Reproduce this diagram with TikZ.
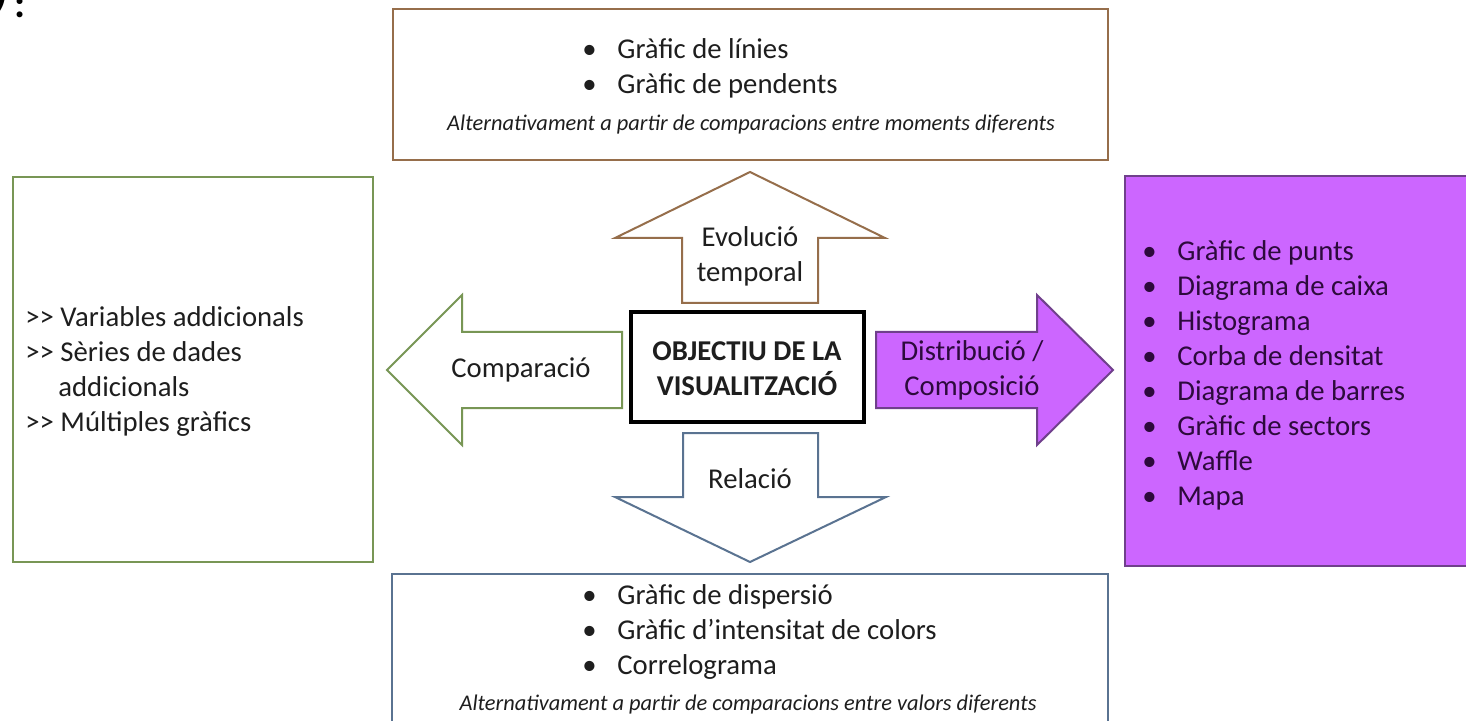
\documentclass[tikz,border=0pt]{standalone}
\usepackage{fontspec}
\setmainfont{Carlito}
\usetikzlibrary{fit}
\definecolor{brownc}{RGB}{150,110,75}
\definecolor{greenc}{RGB}{120,150,85}
\definecolor{bluec}{RGB}{90,115,145}
\definecolor{purfill}{RGB}{204,102,255}
\definecolor{purline}{RGB}{112,64,140}
\definecolor{txt}{RGB}{30,30,30}
\definecolor{purtxt}{RGB}{45,10,60}
\newcommand\itm[1]{\makebox[17.5pt][l]{•}#1\strut}
\tikzset{
  body/.style={font=\fontsize{14.35}{17.5}\selectfont, text=txt, inner sep=0pt},
  note/.style={font=\fontsize{11.2}{13.5}\selectfont\itshape, text=txt, inner sep=0pt},
  frame/.style={draw=#1, line width=1pt, inner sep=0pt},
  blockarrow/.style={draw=#1, line width=1pt, line join=miter},
}
\begin{document}
\begin{tikzpicture}[x=0.5pt,y=-0.5pt]
\useasboundingbox (0,0) rectangle (1466,721);
\clip (0,0) rectangle (1466,721);
\fill[white] (0,0) rectangle (1466,721);

% cut-off label at top left
\node[font=\fontsize{20}{24}\selectfont\bfseries, anchor=base west, inner sep=0pt] (frag) at (-5,18) {\raisebox{6pt}{)}\kern3.5pt:};

% boxes
\node[frame=brownc, fit={(393,9) (1108,160)}] (topbox) {};
\node[frame=greenc, fit={(13,177) (373,562)}] (leftbox) {};
\node[frame=purline, fill=purfill, fit={(1125,176) (1480,566)}] (rightbox) {};
\node[frame=bluec, fit={(392,574) (1108,740)}] (bottombox) {};
\node[draw=black, line width=1.75pt, inner sep=0pt, fit={(631,312) (864,422)}] (goal) {};

% block arrows
\draw[blockarrow=brownc] (682,303) -- (682,238) -- (615,238) -- (750,172) -- (885,238) -- (818,238) -- (818,303) -- cycle;
\draw[blockarrow=bluec] (683,433) -- (683,497) -- (615,497) -- (750,562) -- (886,497) -- (818,497) -- (818,433) -- cycle;
\draw[blockarrow=greenc] (622,332) -- (462,332) -- (462,295) -- (387,370) -- (462,445) -- (462,408) -- (622,408) -- cycle;
\draw[blockarrow=purline, fill=purfill] (876,332) -- (1037,332) -- (1037,295) -- (1113,370) -- (1037,445) -- (1037,408) -- (876,408) -- cycle;

% labels
\node[body, align=center, font=\fontsize{14.35}{17.5}\selectfont\bfseries] (goaltext) at (747,369) {OBJECTIU DE LA\\VISUALITZACIÓ};
\node[body, align=center] (evol) at (750,257) {Evolució\strut\\temporal\strut};
\node[body] (rel) at (750,481) {Relació\strut};
\node[body] (comp) at (521,371) {Comparació\strut};
\node[body, align=center, text=purtxt] (dist) at (972,371) {Distribució /\strut\\Composició\strut};

% lists
\node[body, anchor=west, align=left] (toplist) at (582,69) {\itm{Gràfic de línies}\\\itm{Gràfic de pendents}};
\node[note] (topnote) at (751,125) {Alternativament a partir de comparacions entre moments diferents};

\node[body, anchor=west, align=left] (bottomlist) at (582,632) {\itm{Gràfic de dispersió}\\\itm{Gràfic d’intensitat de colors}\\\itm{Correlograma}};
\node[note] (bottomnote) at (748,705) {Alternativament a partir de comparacions entre valors diferents};

\node[body, anchor=west, align=left] (leftlist) at (25,372) {{>}{>} Variables addicionals\strut\\{>}{>} Sèries de dades\strut\\\hspace*{16.5pt}addicionals\strut\\{>}{>} Múltiples gràfics\strut};

\node[body, anchor=west, align=left, text=purtxt] (rightlist) at (1142,376) {\itm{Gràfic de punts}\\\itm{Diagrama de caixa}\\\itm{Histograma}\\\itm{Corba de densitat}\\\itm{Diagrama de barres}\\\itm{Gràfic de sectors}\\\itm{Waffle}\\\itm{Mapa}};
\end{tikzpicture}
\end{document}
